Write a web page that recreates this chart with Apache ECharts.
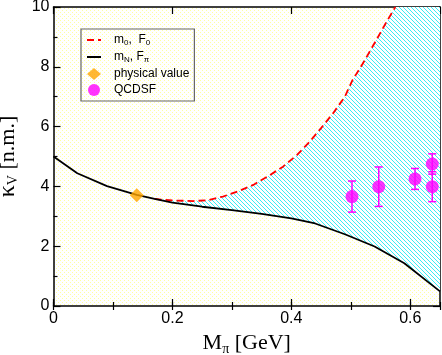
<!DOCTYPE html>
<html>
<head>
<meta charset="utf-8">
<script src="https://cdn.jsdelivr.net/npm/echarts@6/dist/echarts.min.js"></script>
<style>
  html, body { margin: 0; padding: 0; background: #fff; }
  #chart { width: 442px; height: 355px; }
</style>
</head>
<body>
<div id="chart"></div>
<script>
// black curve (m_N, F_pi)
const blackX = [0, 0.04, 0.09, 0.14, 0.17, 0.2, 0.25, 0.3, 0.35, 0.4, 0.44, 0.49, 0.54, 0.59, 0.65]
const blackY = [5.0, 4.44, 4.01, 3.72, 3.58, 3.46, 3.32, 3.21, 3.08, 2.93, 2.76, 2.40, 1.99, 1.43, 0.49]

// red dashed curve (m_0, F_0)
const redX = [0.17, 0.2, 0.235, 0.26, 0.285, 0.31, 0.336, 0.36, 0.386, 0.41, 0.431, 0.45, 0.47, 0.49, 0.503, 0.52, 0.543, 0.56, 0.575]
const redY = [3.58, 3.53, 3.51, 3.54, 3.66, 3.83, 4.05, 4.33, 4.66, 5.06, 5.5, 5.95, 6.44, 7.0, 7.56, 8.1, 8.9, 9.5, 10.0]

// physical point
const physX = [0.14]
const physY = [3.7]

// QCDSF lattice points
const qX = [0.502, 0.547, 0.608, 0.637, 0.637]
const qY = [3.66, 3.99, 4.25, 4.75, 3.99]
const qErr = [0.52, 0.66, 0.35, 0.34, 0.5]

const yMax = 10
const xMax = 0.65

function makePattern(size, bg, fg, pts) {
  const c = document.createElement('canvas')
  c.width = size
  c.height = size
  const ctx = c.getContext('2d')
  ctx.fillStyle = bg
  ctx.fillRect(0, 0, size, size)
  ctx.fillStyle = fg
  pts.forEach(p => ctx.fillRect(p[0], p[1], 1, 1))
  return { image: c, repeat: 'repeat' }
}

const dotPattern = makePattern(4, '#ffffff', '#ffffa0', [[0, 0], [2, 2]])
const hatchPattern = makePattern(4, '#ffffff', '#38ecf5', [[0, 0], [1, 1], [2, 2], [3, 3]])

const chart = echarts.init(document.getElementById('chart'), null, { renderer: 'canvas' })

const tickFont = { fontFamily: 'Liberation Sans', fontSize: 16, color: '#000' }

function majorX(pos, labels) {
  return {
    type: 'value', position: pos, min: 0, max: xMax, interval: 0.2,
    axisLine: { show: true, onZero: false, lineStyle: { color: '#000', width: 1.5 } },
    axisTick: { show: true, inside: true, length: 7, lineStyle: { color: '#000', width: 1.2 } },
    axisLabel: labels ? Object.assign({
      show: true, margin: 5, showMaxLabel: false,
      formatter: v => (v === 0 ? '0' : v.toFixed(1))
    }, tickFont) : { show: false },
    splitLine: { show: false },
    name: labels ? 'M{sub|π} [GeV]' : '',
    nameLocation: 'middle',
    nameGap: 20,
    nameTextStyle: {
      fontFamily: 'Liberation Serif', fontSize: 22, color: '#000',
      rich: { sub: { fontFamily: 'Liberation Serif', fontSize: 14, verticalAlign: 'bottom', padding: [12, 0, 0, 0] } }
    }
  }
}

function minorX(pos) {
  return {
    type: 'value', position: pos, min: 0, max: xMax, interval: 0.1,
    axisLine: { show: false },
    axisTick: { show: true, inside: true, length: 4, lineStyle: { color: '#000', width: 1.2 } },
    axisLabel: { show: false },
    splitLine: { show: false }
  }
}

function yAx(pos, labels) {
  return {
    type: 'value', position: pos, min: 0, max: yMax, interval: 2,
    axisLine: { show: true, onZero: false, lineStyle: { color: '#000', width: 1.5 } },
    axisTick: { show: true, inside: true, length: 7, lineStyle: { color: '#000', width: 1.2 } },
    minorTick: { show: true, splitNumber: 2, length: 4, lineStyle: { color: '#000', width: 1.2 } },
    axisLabel: labels ? Object.assign({ show: true, margin: 4 }, tickFont) : { show: false },
    splitLine: { show: false },
    name: labels ? '{k|κ}{sub|V} [n.m.]' : '',
    nameLocation: 'middle',
    nameGap: 30,
    nameRotate: 90,
    nameTextStyle: {
      fontFamily: 'Liberation Serif', fontSize: 22, color: '#000',
      rich: {
        k: { fontFamily: 'Liberation Serif', fontSize: 24 },
        sub: { fontFamily: 'Liberation Serif', fontSize: 14, verticalAlign: 'bottom', padding: [12, 0, 0, 0] }
      }
    }
  }
}

const legendNames = {
  red: 'm{s|0},  F{s|0}',
  black: 'm{s|N}, F{s|π}',
  phys: 'physical value',
  QCDSF: 'QCDSF'
}

chart.setOption({
  animation: false,
  grid: {
    left: 53.5, right: 2, top: 7, bottom: 49,
    outerBoundsMode: 'none',
    containLabel: false,
    show: true, backgroundColor: dotPattern, borderWidth: 0
  },
  legend: {
    left: 81, top: 29,
    orient: 'vertical',
    padding: [5, 5, 5, 5],
    itemGap: 4,
    itemWidth: 14,
    itemHeight: 12,
    borderColor: '#666',
    borderWidth: 1.2,
    backgroundColor: 'transparent',
    data: [
      { name: 'red', itemStyle: { opacity: 0 } },
      { name: 'black', itemStyle: { opacity: 0 } },
      { name: 'phys' },
      { name: 'QCDSF' }
    ],
    formatter: name => legendNames[name],
    textStyle: {
      fontFamily: 'Liberation Sans', fontSize: 12, color: '#000',
      padding: [0, 0, 0, 8],
      rich: { s: { fontSize: 8, verticalAlign: 'bottom', padding: [6, 0, 0, 0] } }
    }
  },
  xAxis: [majorX('bottom', true), minorX('bottom'), majorX('top', false), minorX('top')],
  yAxis: [yAx('left', true), yAx('right', false)],
  series: [
    {
      type: 'custom',
      name: 'band',
      clip: true,
      silent: true,
      z: 1,
      data: [[0]],
      renderItem: (params, api) => {
        const pts = []
        redX.forEach((x, i) => pts.push(api.coord([x, redY[i]])))
        pts.push(api.coord([xMax, yMax]))
        for (let i = blackX.length - 1; i >= 0; i--) {
          if (blackX[i] >= redX[0]) pts.push(api.coord([blackX[i], blackY[i]]))
        }
        return { type: 'polygon', shape: { points: pts }, style: { fill: hatchPattern, stroke: null } }
      }
    },
    {
      type: 'line',
      name: 'red',
      data: redX.map((x, i) => [x, redY[i]]),
      symbol: 'none',
      z: 3,
      lineStyle: { color: '#ff0000', width: 1.8, type: [7, 4] },
      itemStyle: { color: '#ff0000' }
    },
    {
      type: 'line',
      name: 'black',
      data: blackX.map((x, i) => [x, blackY[i]]),
      symbol: 'none',
      z: 4,
      lineStyle: { color: '#000', width: 1.8 },
      itemStyle: { color: '#000' }
    },
    {
      type: 'scatter',
      name: 'phys',
      data: physX.map((x, i) => [x, physY[i]]),
      symbol: 'diamond',
      symbolSize: 14,
      z: 5,
      itemStyle: { color: '#ffa500' }
    },
    {
      type: 'custom',
      name: 'errbars',
      z: 5,
      silent: true,
      data: qX.map((x, i) => [x, qY[i] - qErr[i], qY[i] + qErr[i]]),
      renderItem: (params, api) => {
        const lo = api.coord([api.value(0), api.value(1)])
        const hi = api.coord([api.value(0), api.value(2)])
        const w = 4
        const st = { stroke: '#ff00ff', lineWidth: 1.5 }
        return {
          type: 'group',
          children: [
            { type: 'line', shape: { x1: lo[0], y1: lo[1], x2: hi[0], y2: hi[1] }, style: st },
            { type: 'line', shape: { x1: lo[0] - w, y1: lo[1], x2: lo[0] + w, y2: lo[1] }, style: st },
            { type: 'line', shape: { x1: hi[0] - w, y1: hi[1], x2: hi[0] + w, y2: hi[1] }, style: st }
          ]
        }
      }
    },
    {
      type: 'scatter',
      name: 'QCDSF',
      data: qX.map((x, i) => [x, qY[i]]),
      symbol: 'circle',
      symbolSize: 13,
      z: 6,
      itemStyle: { color: '#ff00ff' }
    }
  ]
})
</script>
</body>
</html>
